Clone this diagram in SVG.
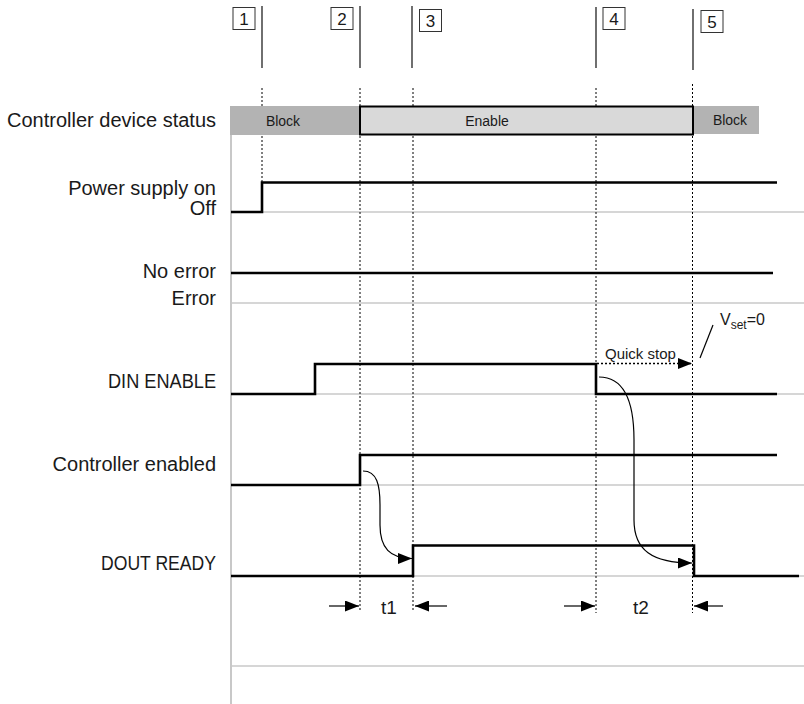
<svg xmlns="http://www.w3.org/2000/svg" width="804" height="704" viewBox="0 0 804 704">
<defs>
<style>
text{font-family:"Liberation Sans",Arial,sans-serif;fill:#1a1a1a}
.lbl{font-size:20px;text-anchor:end}
.sm{font-size:14px}
.num{font-size:17px;text-anchor:middle}
.grid{stroke:#c8c8c8;stroke-width:1.5;fill:none}
.sig{stroke:#000;stroke-width:2.6;fill:none;stroke-linejoin:miter}
.dot{stroke:#000;stroke-width:1;stroke-dasharray:2,2;fill:none}
.mark{stroke:#222;stroke-width:1.3}
.box{fill:#fff;stroke:#333;stroke-width:1}
.thin{stroke:#000;stroke-width:1.2;fill:none}
</style>
<marker id="ah" viewBox="0 0 14 11" refX="14" refY="5.5" markerWidth="14" markerHeight="11" markerUnits="userSpaceOnUse" orient="auto">
<path d="M0,0 L14,5.5 L0,11 Z" fill="#000"/>
</marker>
</defs>
<rect width="804" height="704" fill="#fff"/>

<g id="grid">
<line class="grid" x1="231" y1="106" x2="231" y2="704" style="stroke-width:2"/>
<line class="grid" x1="231" y1="212" x2="804" y2="212"/>
<line class="grid" x1="231" y1="303" x2="804" y2="303"/>
<line class="grid" x1="231" y1="394" x2="804" y2="394"/>
<line class="grid" x1="231" y1="485" x2="804" y2="485"/>
<line class="grid" x1="231" y1="576" x2="804" y2="576"/>
<line class="grid" x1="231" y1="666" x2="804" y2="666"/>
</g>

<g id="markers">
<line class="mark" x1="262" y1="6" x2="262" y2="68"/>
<line class="mark" x1="360" y1="6" x2="360" y2="68"/>
<line class="mark" x1="412" y1="6" x2="412" y2="68"/>
<line class="mark" x1="596" y1="7" x2="596" y2="68"/>
<line class="mark" x1="693" y1="9" x2="693" y2="70"/>
<g id="m1"><rect class="box" x="233" y="7.5" width="22" height="22"/><text class="num" x="244" y="25">1</text></g>
<g id="m2"><rect class="box" x="331" y="7.5" width="22" height="22"/><text class="num" x="342" y="25">2</text></g>
<g id="m3"><rect class="box" x="419.5" y="9.5" width="22" height="22"/><text class="num" x="430.5" y="27">3</text></g>
<g id="m4"><rect class="box" x="603" y="7.5" width="22" height="22"/><text class="num" x="614" y="25">4</text></g>
<g id="m5"><rect class="box" x="701" y="10.5" width="22" height="22"/><text class="num" x="712" y="28">5</text></g>
</g>

<g id="dotted">
<line class="dot" x1="262" y1="88" x2="262" y2="182"/>
<line class="dot" x1="360" y1="88" x2="360" y2="612"/>
<line class="dot" x1="413" y1="88" x2="413" y2="612"/>
<line class="dot" x1="596" y1="88" x2="596" y2="613"/>
<line class="dot" x1="692.5" y1="84" x2="692.5" y2="613"/>
</g>

<g id="status">
<rect x="230" y="106" width="130" height="29" fill="#b3b3b3"/>
<rect x="360" y="106.5" width="333" height="28" fill="#d9d9d9" stroke="#000" stroke-width="2"/>
<rect x="694" y="106" width="65" height="28" fill="#b3b3b3"/>
<text class="sm" x="283" y="126" text-anchor="middle">Block</text>
<text class="sm" x="487" y="126" text-anchor="middle">Enable</text>
<text class="sm" x="730" y="125" text-anchor="middle">Block</text>
</g>

<g id="labels">
<text class="lbl" x="216" y="127">Controller device status</text>
<text class="lbl" x="216" y="195">Power supply on</text>
<text class="lbl" x="216" y="215">Off</text>
<text class="lbl" x="216" y="278">No error</text>
<text class="lbl" x="216" y="305">Error</text>
<text class="lbl" x="216" y="388" textLength="108" lengthAdjust="spacingAndGlyphs">DIN ENABLE</text>
<text class="lbl" x="216" y="471">Controller enabled</text>
<text class="lbl" x="216" y="570" textLength="115" lengthAdjust="spacingAndGlyphs">DOUT READY</text>
</g>

<g id="signals">
<path id="power" class="sig" d="M231,212 H262 V182.5 H777"/>
<path id="error" class="sig" d="M231,273 H773"/>
<path id="din" class="sig" d="M231,394 H315 V364 H596 V394 H777"/>
<path id="ctrl" class="sig" d="M231,485 H360 V455 H777"/>
<path id="dout" class="sig" d="M231,576 H413 V545.5 H694 V576 H799"/>
</g>

<g id="connectors">
<path class="thin" d="M363,471 C377,471 380,485 380,505 L380,525 C380,548 390,558.5 412,558.5" marker-end="url(#ah)"/>
<path class="thin" d="M599,377 C624,377 634,400 634,440 L634,520 C634,550 652,563 692,563" marker-end="url(#ah)"/>
<path class="dot" style="stroke-width:1.3" d="M597,363.5 H692" marker-end="url(#ah)"/>
<line class="thin" x1="713" y1="325" x2="700" y2="358"/>
<line class="thin" x1="329" y1="606" x2="359" y2="606" marker-end="url(#ah)"/>
<line class="thin" x1="447" y1="606" x2="415" y2="606" marker-end="url(#ah)"/>
<line class="thin" x1="564" y1="606" x2="595" y2="606" marker-end="url(#ah)"/>
<line class="thin" x1="723" y1="606" x2="694" y2="606" marker-end="url(#ah)"/>
</g>

<g id="annotations">
<text class="sm" x="605" y="359" style="font-size:15px">Quick stop</text>
<text x="720" y="325" style="font-size:16px">V<tspan dy="4" style="font-size:12px">set</tspan><tspan dy="-4">=0</tspan></text>
<text x="389" y="614" style="font-size:19px" text-anchor="middle">t1</text>
<text x="641" y="614" style="font-size:19px" text-anchor="middle">t2</text>
</g>
</svg>
